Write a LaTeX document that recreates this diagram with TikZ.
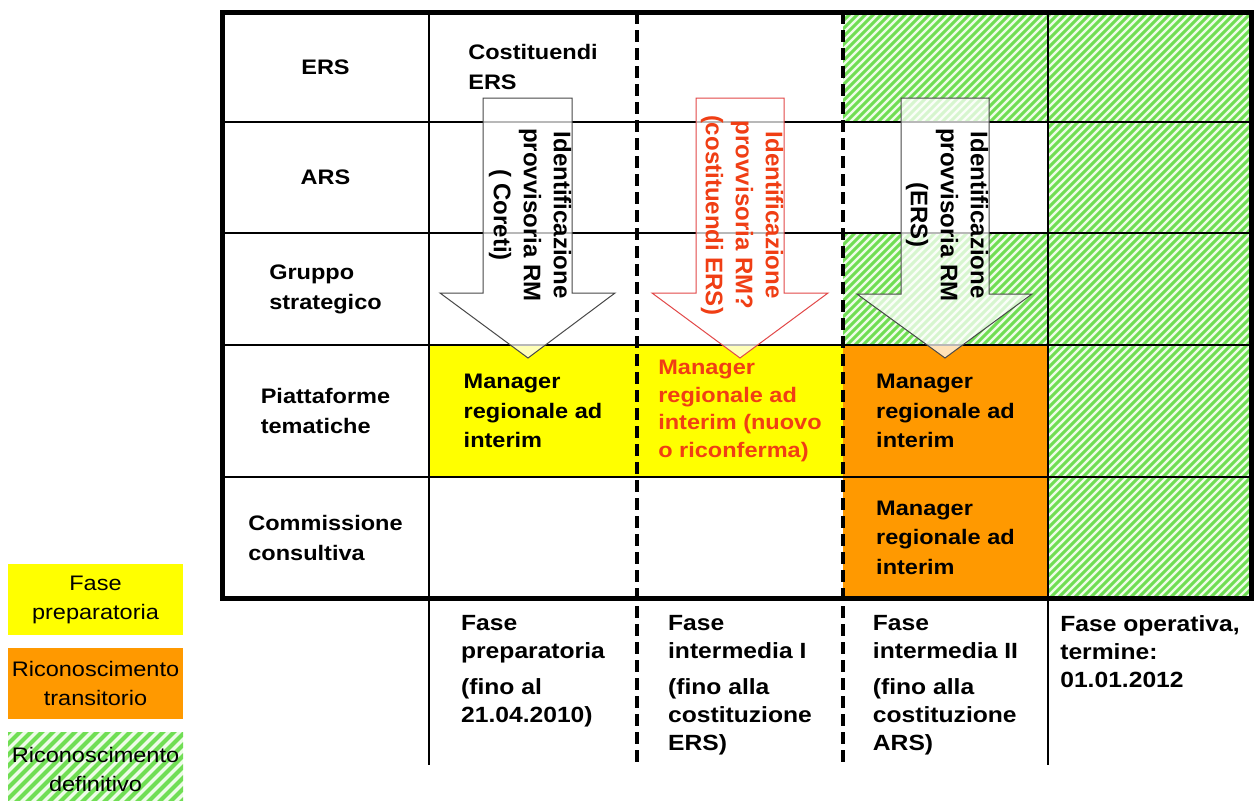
\documentclass[tikz,border=0pt]{standalone}
\usepackage{fontspec}
\setmainfont[FakeStretch=1.12]{Liberation Sans}
\newfontfamily\rotfont{Liberation Sans}
\usepackage{xcolor}
\usepackage{tikz}
\usetikzlibrary{positioning}

\definecolor{phaseyellow}{RGB}{255,255,0}
\definecolor{transorange}{RGB}{255,153,0}
\definecolor{hatchgreen}{RGB}{112,222,84}
\definecolor{hatchpale}{RGB}{238,252,232}
\definecolor{rmred}{RGB}{240,62,20}
\definecolor{arrowred}{RGB}{226,72,72}
\definecolor{arrowgray}{RGB}{72,72,72}

\begin{document}
\begin{tikzpicture}[x=0.5pt,y=-0.5pt,
    lab/.style={align=left,inner sep=0pt,font=\fontsize{10.5pt}{15pt}\selectfont\bfseries},
    cell/.style={align=left,inner sep=0pt,font=\fontsize{10.5pt}{14.75pt}\selectfont\bfseries},
    phase/.style={align=left,anchor=north,inner sep=0pt,font=\fontsize{11pt}{14pt}\selectfont\bfseries},
    idtext/.style={align=center,rotate=-90,inner sep=0pt,font=\rotfont\bfseries\fontsize{12pt}{15pt}\selectfont},
    legbox/.style={minimum width=87.5pt,minimum height=35.5pt,inner sep=0pt,align=center,font=\fontsize{10.5pt}{14.5pt}\selectfont},
    grid/.style={line width=0.6pt},
    phaseline/.style={line width=2pt,dash pattern=on 6pt off 3pt},
    frame/.style={line width=2.5pt},
    hatch/.style={hatchgreen,line width=1.5pt},
    bigarrow/.style={draw=arrowgray,line width=0.5pt,fill=white,fill opacity=0.72}]

    \clip (0,0) rectangle (1255,800);
    \fill[white] (0,0) rectangle (1255,800);

    % coloured cells
    \fill[phaseyellow] (430,345) rectangle (843,477);
    \fill[transorange] (843,345) rectangle (1048,598);
    \begin{scope}
      \clip (1048,12) rectangle (1252,598) (843,12) rectangle (1048,122)
            (843,233) rectangle (1048,345);
      \fill[hatchpale] (843,12) rectangle (1252,598);
      \foreach \c in {848,856,...,1856}
        \draw[hatch] ({\c-600},600) -- (\c,0);
    \end{scope}

    % legend hatch
    \begin{scope}
      \clip (8,732) rectangle (183,803);
      \fill[hatchpale] (8,732) rectangle (183,803);
      \foreach \c in {730,741,...,1000}
        \draw[hatch,line width=2pt] ({\c-810},810) -- (\c,0);
    \end{scope}

    % grid
    \foreach \y in {122,233,345,477}
      \draw[grid] (222,\y) -- (1252,\y);
    \draw[grid] (429,12) -- (429,765);
    \draw[grid] (1048,12) -- (1048,765);
    \draw[phaseline] (637,12) -- (637,765);
    \draw[phaseline] (843,12) -- (843,765);
    \draw[frame] (222,12) rectangle (1251,598);

    % arrows
    \draw[bigarrow] (483,98) -- (572,98) -- (572,293) -- (615,293) -- (528,358)
                    -- (440,293) -- (483,293) -- cycle;
    \draw[bigarrow,draw=arrowred] (696,98) -- (784,98) -- (784,293) -- (828,293)
                    -- (740,358) -- (652,293) -- (696,293) -- cycle;
    \draw[bigarrow] (901,98) -- (989,98) -- (989,294) -- (1032,294) -- (945,358)
                    -- (857,294) -- (901,294) -- cycle;

    \node[idtext] (idA) at (530,215) {Identificazione\\provvisoria RM\\( Coreti)};
    \node[idtext,text=rmred] (idB) at (742,215) {Identificazione\\provvisoria RM?\\(costituendi ERS)};
    \node[idtext] (idC) at (947,215) {Identificazione\\provvisoria RM\\(ERS)};

    % row labels
    \node[lab] (lERS) at (325.5,67) {ERS};
    \node[lab] (lARS) at (325.5,177.5) {ARS};
    \node[lab] (lGS) at (325.5,289) {Gruppo\\strategico};
    \node[lab] (lPT) at (325.5,411) {Piattaforme\\tematiche};
    \node[lab] (lCC) at (325.5,537.5) {Commissione\\consultiva};

    % cells
    \node[cell] (cost) at (533,67) {Costituendi\\ERS};
    \node[cell] (mgrA) at (533,411) {Manager\\regionale ad\\interim};
    \node[cell,text=rmred,font=\fontsize{10.5pt}{13.75pt}\selectfont\bfseries] (mgrB) at (740,411)
      {Manager\\regionale ad\\interim (nuovo\\o riconferma)};
    \node[cell] (mgrC) at (945.5,411) {Manager\\regionale ad\\interim};
    \node[cell] (mgrD) at (945.5,537.5) {Manager\\regionale ad\\interim};

    % phases
    \node[phase] (phA) at (533,615) {Fase\\preparatoria\\[4pt](fino al\\21.04.2010)};
    \node[phase] (phB) at (740,615) {Fase\\intermedia I\\[4pt](fino alla\\costituzione\\ERS)};
    \node[phase] (phC) at (945.5,615) {Fase\\intermedia II\\[4pt](fino alla\\costituzione\\ARS)};
    \node[phase] (phD) at (1150,615) {Fase operativa,\\termine:\\01.01.2012};

    % legend
    \node[legbox,fill=phaseyellow] (legYellow) at (95.5,599.5) {Fase\\preparatoria};
    \node[legbox,fill=transorange,below=6pt of legYellow] (legOrange) {Riconoscimento\\transitorio};
    \node[legbox,below=7pt of legOrange] (legGreen) {Riconoscimento\\definitivo};
\end{tikzpicture}
\end{document}
